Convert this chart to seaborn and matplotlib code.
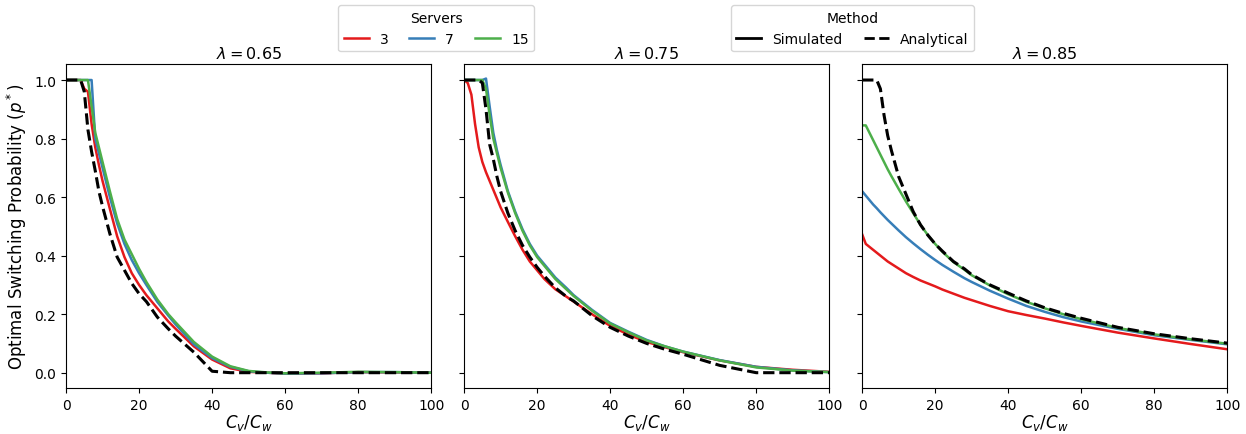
import numpy as np
import pandas as pd
import matplotlib
matplotlib.use("Agg")
import matplotlib.pyplot as plt
from matplotlib.lines import Line2D
import seaborn as sns

# cost ratio grid shared by all curves
cost_ratio = [0, 1, 2, 3, 4, 5, 6, 7, 8, 9, 10, 12, 14, 16, 18, 20, 22, 25, 28, 30,
              35, 40, 45, 50, 55, 60, 70, 80, 90, 100]

lambdas = [0.65, 0.75, 0.85]
servers = [3, 7, 15]
server_colors = {3: "#e41a1c", 7: "#377eb8", 15: "#4daf4a"}

# lambda = 0.65
sim_065_s3 = [1, 1, 1, 1, 1, 0.97, 0.96, 0.85, 0.77, 0.71, 0.655, 0.56, 0.466, 0.395, 0.34, 0.30,
              0.265, 0.22, 0.175, 0.15, 0.09, 0.045, 0.015, 0.003, 0.0, -0.003, -0.002, 0.002, 0.001, 0.0]
sim_065_s7 = [1, 1, 1, 1, 1, 1, 1, 1, 0.80, 0.75, 0.70, 0.60, 0.51, 0.44, 0.385, 0.34,
              0.30, 0.242, 0.195, 0.165, 0.097, 0.05, 0.02, 0.005, 0.0, -0.003, -0.002, 0.002, 0.002, 0.0]
sim_065_s15 = [1, 1, 1, 1, 1, 1, 1, 0.91, 0.82, 0.77, 0.72, 0.62, 0.525, 0.455, 0.405, 0.355,
               0.31, 0.25, 0.20, 0.172, 0.105, 0.055, 0.022, 0.006, 0.001, -0.002, 0.0, 0.003, 0.002, 0.0]
ana_065 = [1, 1, 1, 1, 1, 0.96, 0.83, 0.755, 0.69, 0.62, 0.568, 0.475, 0.395, 0.35, 0.305, 0.27,
           0.243, 0.19, 0.15, 0.125, 0.07, 0.005, 0, 0, 0, 0, 0, 0, 0, 0]

# lambda = 0.75
sim_075_s3 = [1, 0.99, 0.95, 0.85, 0.77, 0.72, 0.685, 0.655, 0.625, 0.595, 0.565, 0.515, 0.466, 0.42, 0.38, 0.35,
              0.32, 0.285, 0.26, 0.243, 0.20, 0.16, 0.13, 0.105, 0.087, 0.07, 0.042, 0.02, 0.01, 0.003]
sim_075_s7 = [1, 1, 1, 1, 1, 1, 1.005, 0.91, 0.82, 0.76, 0.71, 0.62, 0.55, 0.49, 0.44, 0.40,
              0.37, 0.325, 0.29, 0.265, 0.215, 0.17, 0.14, 0.112, 0.09, 0.072, 0.043, 0.02, 0.008, 0.002]
sim_075_s15 = [1, 1, 1, 1, 1, 1, 0.97, 0.88, 0.80, 0.75, 0.70, 0.615, 0.545, 0.485, 0.435, 0.395,
               0.365, 0.32, 0.285, 0.262, 0.212, 0.168, 0.138, 0.11, 0.09, 0.072, 0.042, 0.018, 0.007, 0.002]
ana_075 = [1, 1, 1, 1, 1, 0.99, 0.90, 0.78, 0.73, 0.67, 0.62, 0.545, 0.485, 0.435, 0.395, 0.36,
           0.33, 0.29, 0.26, 0.245, 0.195, 0.155, 0.125, 0.10, 0.08, 0.063, 0.025, 0, 0, 0]

# lambda = 0.85
sim_085_s3 = [0.473, 0.44, 0.43, 0.42, 0.41, 0.40, 0.39, 0.38, 0.372, 0.364, 0.356, 0.34, 0.327, 0.315, 0.305, 0.295,
              0.284, 0.27, 0.256, 0.248, 0.228, 0.21, 0.197, 0.185, 0.172, 0.16, 0.137, 0.117, 0.098, 0.08]
sim_085_s7 = [0.62, 0.605, 0.59, 0.575, 0.562, 0.548, 0.535, 0.522, 0.51, 0.498, 0.486, 0.463, 0.442, 0.422, 0.403, 0.385,
              0.368, 0.345, 0.323, 0.31, 0.28, 0.253, 0.228, 0.208, 0.19, 0.175, 0.15, 0.128, 0.112, 0.097]
sim_085_s15 = [0.845, 0.845, 0.82, 0.795, 0.77, 0.745, 0.72, 0.695, 0.672, 0.65, 0.628, 0.585, 0.545, 0.505, 0.47, 0.44,
               0.413, 0.378, 0.352, 0.333, 0.298, 0.268, 0.242, 0.22, 0.20, 0.183, 0.153, 0.131, 0.114, 0.099]
ana_085 = [1, 1, 1, 1, 1, 0.97, 0.88, 0.81, 0.76, 0.715, 0.67, 0.61, 0.55, 0.505, 0.47, 0.44,
           0.415, 0.38, 0.355, 0.335, 0.30, 0.272, 0.245, 0.222, 0.203, 0.186, 0.155, 0.133, 0.116, 0.101]

simulated = {
    0.65: {3: sim_065_s3, 7: sim_065_s7, 15: sim_065_s15},
    0.75: {3: sim_075_s3, 7: sim_075_s7, 15: sim_075_s15},
    0.85: {3: sim_085_s3, 7: sim_085_s7, 15: sim_085_s15},
}
analytical = {0.65: ana_065, 0.75: ana_075, 0.85: ana_085}

# build a long table for seaborn
rows = []
for lam in lambdas:
    for s in servers:
        for c, p in zip(cost_ratio, simulated[lam][s]):
            rows.append({"lam": lam, "servers": s, "method": "Simulated", "ratio": c, "p": p})
    for c, p in zip(cost_ratio, analytical[lam]):
        rows.append({"lam": lam, "servers": 0, "method": "Analytical", "ratio": c, "p": p})
df = pd.DataFrame(rows)

plt.rcParams['font.family'] = ['DejaVu Sans']

fig, axes = plt.subplots(1, 3, figsize=(12.46, 4.35), dpi=100, sharey=True)
fig.subplots_adjust(left=0.053, right=0.985, bottom=0.105, top=0.851, wspace=0.09)

for ax, lam in zip(axes, lambdas):
    sub = df[df["lam"] == lam]
    for s in servers:
        d = sub[(sub["method"] == "Simulated") & (sub["servers"] == s)]
        sns.lineplot(data=d, x="ratio", y="p", color=server_colors[s], linewidth=1.8, ax=ax)
    d = sub[sub["method"] == "Analytical"]
    sns.lineplot(data=d, x="ratio", y="p", color="black", linewidth=2.2, linestyle="--", ax=ax)
    ax.set_xlim(0, 100)
    ax.set_title(rf"$\lambda = {lam}$", fontsize=11.5, pad=4)
    ax.set_xlabel(r"$C_v/C_w$", fontsize=12, labelpad=0)
    ax.set_ylabel("")
    ax.tick_params(labelsize=10)

axes[0].set_ylabel(r"Optimal Switching Probability ($p^*$)", fontsize=12)

server_handles = [Line2D([], [], color=server_colors[s], lw=1.8) for s in servers]
fig.legend(server_handles, [str(s) for s in servers], title="Servers", ncol=3,
           loc="upper center", bbox_to_anchor=(0.35, 0.995), fontsize=10, title_fontsize=10,
           handlelength=1.8, columnspacing=1.5, borderaxespad=0.3)
method_handles = [Line2D([], [], color="black", lw=2), Line2D([], [], color="black", lw=2, ls="--")]
fig.legend(method_handles, ["Simulated", "Analytical"], title="Method", ncol=2,
           loc="upper center", bbox_to_anchor=(0.684, 0.995), fontsize=10, title_fontsize=10,
           handlelength=1.8, columnspacing=1.5, borderaxespad=0.3)

fig.savefig("out.png", dpi=100)
